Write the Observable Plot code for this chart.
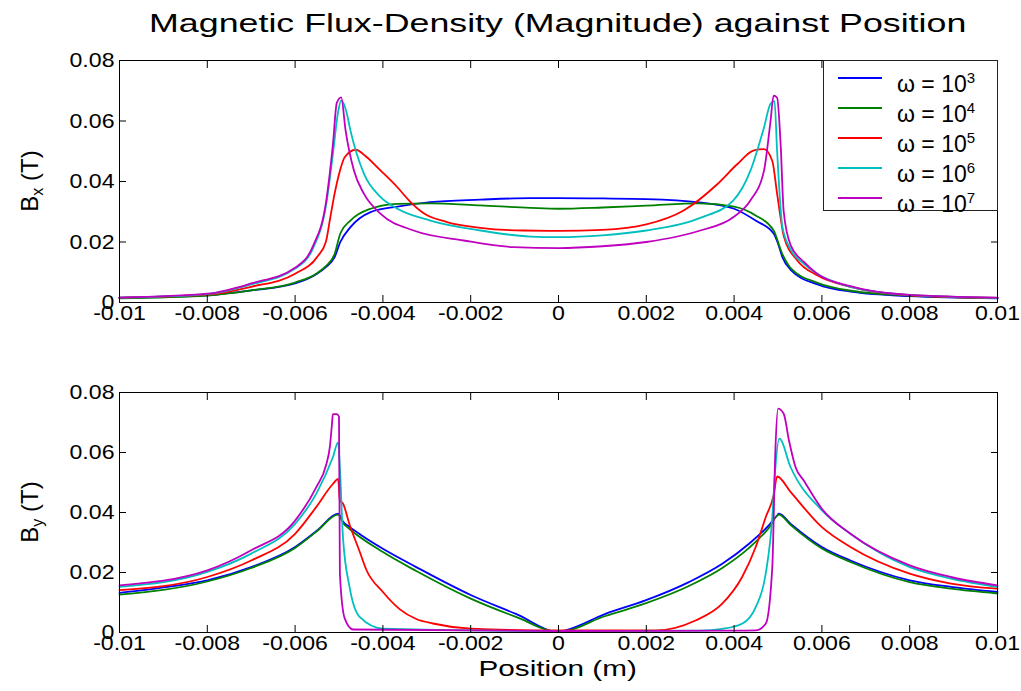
<!DOCTYPE html>
<html>
<head>
<meta charset="utf-8">
<script src="https://cdn.jsdelivr.net/npm/d3@7"></script>
<script src="https://cdn.jsdelivr.net/npm/@observablehq/plot@0.6"></script>
<style>
  html, body { margin: 0; padding: 0; background: #fff; }
  #root { position: relative; width: 1021px; height: 691px; overflow: hidden; font-family: "Liberation Sans", Arial, sans-serif; color: #000; }
  .abs { position: absolute; }
  #title { left: 0; width: 1116px; top: 8px; text-align: center; font-size: 26.5px; white-space: nowrap; }
  #title span, #xlabel span { display: inline-block; transform: scaleX(1.35); transform-origin: center; }
  #xlabel { left: 0; width: 1116px; top: 656px; text-align: center; font-size: 22px; white-space: nowrap; }
  .ylab { font-size: 24px; white-space: nowrap; transform: translate(-50%, -50%) rotate(-90deg); }
  .ylab sub { font-size: 16px; vertical-align: -5px; }
  #legend { left: 823px; top: 60px; width: 173px; height: 149px; border: 1px solid #222; background: #fff; }
  .lrow { position: absolute; left: 0; height: 30px; width: 173px; }
  .lrow svg { position: absolute; left: 14px; top: 0; }
  .lrow .lt { position: absolute; left: 73px; top: 2px; font-size: 23px; white-space: nowrap; line-height: 26px; }
  .lrow .lt sup { font-size: 15px; vertical-align: 9px; }
</style>
</head>
<body>
<div id="root">
  <div id="title" class="abs"><span>Magnetic Flux-Density (Magnitude) against Position</span></div>
  <div id="top" class="abs" style="left:0;top:40px"></div>
  <div id="bottom" class="abs" style="left:0;top:372px"></div>
  <div class="abs ylab" style="left:31px;top:181px">B<sub>x</sub> (T)</div>
  <div class="abs ylab" style="left:31px;top:512px">B<sub>y</sub> (T)</div>
  <div id="xlabel" class="abs"><span>Position (m)</span></div>
  <div id="legend" class="abs"></div>
</div>
<script>
// ---- tick values and labels ----
const xTicks = [-0.01, -0.008, -0.006, -0.004, -0.002, 0, 0.002, 0.004, 0.006, 0.008, 0.01];
const xTickLabels = ["-0.01", "-0.008", "-0.006", "-0.004", "-0.002", "0", "0.002", "0.004", "0.006", "0.008", "0.01"];
const yTicks = [0, 0.02, 0.04, 0.06, 0.08];
const yTickLabels = ["0", "0.02", "0.04", "0.06", "0.08"];

// ---- series names / colours ----
const seriesExponents = ["3", "4", "5", "6", "7"];
const seriesColors = ["#0000ff", "#008000", "#ff0000", "#00bfbf", "#bf00bf"];

// ---- Bx (top panel): [position (m), flux density (T)] ----
const bx_w1e3 = [[-0.0100,0.0015],[-0.0090,0.0019],[-0.0080,0.0024],[-0.0070,0.0040],[-0.0060,0.0063],[-0.0055,0.0095],[-0.0053,0.0117],[-0.0051,0.0150],[-0.00497,0.0200],[-0.00474,0.0249],[-0.00428,0.0299],[-0.00367,0.0317],[-0.00292,0.0332],[-0.00178,0.0340],[-0.00064,0.0345],[0,0.0345],[0.0010,0.0344],[0.0020,0.0342],[0.0032,0.0331],[0.0040,0.0310],[0.0045,0.0270],[0.0049,0.0228],[0.0050,0.0195],[0.0051,0.0150],[0.0053,0.0106],[0.0059,0.0060],[0.0067,0.0035],[0.0080,0.0021],[0.0100,0.0014]];
const bx_w1e4 = [[-0.0100,0.0014],[-0.0080,0.0023],[-0.0070,0.0040],[-0.0060,0.0066],[-0.0055,0.0097],[-0.0053,0.0120],[-0.0051,0.0160],[-0.00497,0.0228],[-0.00474,0.0271],[-0.00428,0.0310],[-0.00367,0.0326],[-0.00292,0.0328],[-0.00178,0.0321],[-0.00064,0.0313],[0,0.0310],[0.0010,0.0314],[0.0020,0.0320],[0.0032,0.0328],[0.0040,0.0317],[0.0045,0.0287],[0.0049,0.0238],[0.0051,0.0160],[0.0053,0.0112],[0.0059,0.0065],[0.0067,0.0038],[0.0080,0.0023],[0.0100,0.0015]];
const bx_w1e5 = [[-0.0100,0.0016],[-0.0080,0.0026],[-0.0070,0.0052],[-0.0060,0.0095],[-0.0055,0.0150],[-0.0053,0.0200],[-0.0052,0.0280],[-0.0051,0.0360],[-0.00498,0.0435],[-0.00487,0.0480],[-0.00462,0.0505],[-0.00438,0.0482],[-0.00405,0.0436],[-0.00367,0.0381],[-0.00337,0.0332],[-0.00307,0.0295],[-0.00254,0.0266],[-0.00178,0.0247],[-0.0008,0.0238],[0,0.0237],[0.0010,0.0240],[0.0020,0.0258],[0.00285,0.0304],[0.00361,0.0390],[0.00407,0.0457],[0.00445,0.0503],[0.00468,0.0507],[0.00487,0.0468],[0.00498,0.0359],[0.00506,0.0280],[0.00513,0.0220],[0.00544,0.0139],[0.00589,0.0090],[0.00665,0.0052],[0.0080,0.0024],[0.0100,0.0015]];
const bx_w1e6 = [[-0.0100,0.0016],[-0.0080,0.0028],[-0.0070,0.0060],[-0.0060,0.0112],[-0.00559,0.0180],[-0.00529,0.0326],[-0.00514,0.0490],[-0.00502,0.0630],[-0.00495,0.0668],[-0.00483,0.0630],[-0.00474,0.0569],[-0.00443,0.0425],[-0.00405,0.0348],[-0.00367,0.0310],[-0.00292,0.0271],[-0.00178,0.0238],[-0.00064,0.0218],[0,0.0216],[0.0010,0.0222],[0.0020,0.0238],[0.00323,0.0280],[0.00398,0.0337],[0.00437,0.0435],[0.00468,0.0578],[0.00483,0.0657],[0.00492,0.0666],[0.00498,0.0500],[0.00510,0.0250],[0.00529,0.0175],[0.00559,0.0128],[0.00589,0.0095],[0.00665,0.0052],[0.0080,0.0025],[0.0100,0.0015]];
const bx_w1e7 = [[-0.0100,0.0016],[-0.0080,0.0029],[-0.0070,0.0063],[-0.0060,0.0115],[-0.00559,0.0187],[-0.00529,0.0337],[-0.00514,0.0520],[-0.00505,0.0660],[-0.00495,0.0678],[-0.00485,0.0569],[-0.00466,0.0436],[-0.00443,0.0359],[-0.00405,0.0293],[-0.0033,0.0238],[-0.00216,0.0205],[-0.00102,0.0183],[0,0.0180],[0.0010,0.0186],[0.0020,0.0200],[0.00323,0.0238],[0.00398,0.0282],[0.00437,0.0337],[0.00468,0.0435],[0.00483,0.0600],[0.00490,0.0684],[0.00498,0.0677],[0.00506,0.0523],[0.00513,0.0300],[0.00529,0.0189],[0.00559,0.0134],[0.00589,0.0095],[0.00665,0.0054],[0.0080,0.0025],[0.0100,0.0016]];

// ---- By (bottom panel): [position (m), flux density (T)] ----
const by_w1e3 = [[-0.0100,0.0132],[-0.0089,0.0152],[-0.0080,0.0174],[-0.0070,0.0218],[-0.0060,0.0285],[-0.0055,0.0340],[-0.00502,0.0396],[-0.00491,0.0370],[-0.00476,0.0352],[-0.0045,0.0325],[-0.0040,0.0279],[-0.00324,0.0218],[-0.0020,0.0125],[-0.00097,0.0062],[0,0.0002],[0.00016,0.0007],[0.00107,0.0062],[0.00198,0.0107],[0.00297,0.0168],[0.00373,0.0229],[0.00434,0.0296],[0.00479,0.0357],[0.00498,0.0390],[0.00502,0.0396],[0.00529,0.0362],[0.0060,0.0285],[0.00665,0.0240],[0.0080,0.0174],[0.00894,0.0152],[0.0100,0.0135]];
const by_w1e4 = [[-0.0100,0.0126],[-0.0080,0.0170],[-0.0070,0.0215],[-0.0060,0.0282],[-0.0055,0.0338],[-0.00502,0.0393],[-0.00491,0.0365],[-0.00476,0.0345],[-0.0040,0.0268],[-0.00324,0.0205],[-0.0020,0.0113],[-0.00097,0.0052],[0,0.0002],[0.00107,0.0055],[0.00198,0.0097],[0.00297,0.0155],[0.00373,0.0215],[0.00434,0.0282],[0.00479,0.0348],[0.00502,0.0393],[0.00529,0.0358],[0.0060,0.0280],[0.00665,0.0235],[0.0080,0.0168],[0.00894,0.0146],[0.0100,0.0130]];
const by_w1e5 = [[-0.0100,0.0141],[-0.0080,0.0185],[-0.0070,0.0240],[-0.0060,0.0329],[-0.00552,0.0418],[-0.00514,0.0495],[-0.00502,0.0512],[-0.00498,0.0440],[-0.00491,0.0430],[-0.00476,0.0360],[-0.00453,0.0270],[-0.00438,0.0210],[-0.0040,0.0135],[-0.00362,0.0078],[-0.00324,0.0045],[-0.00286,0.0030],[-0.0020,0.0013],[0,0.0007],[0.00221,0.0007],[0.00312,0.0040],[0.00373,0.0096],[0.00418,0.0184],[0.00449,0.0284],[0.00472,0.0384],[0.00490,0.0457],[0.00498,0.0520],[0.00529,0.0468],[0.0060,0.0351],[0.00665,0.0285],[0.0080,0.0196],[0.00894,0.0163],[0.0100,0.0146]];
const by_w1e6 = [[-0.0100,0.0152],[-0.0080,0.0202],[-0.0070,0.0263],[-0.0060,0.0362],[-0.00552,0.0462],[-0.00514,0.0584],[-0.00502,0.0634],[-0.00498,0.0550],[-0.00491,0.0318],[-0.00476,0.0152],[-0.00453,0.0052],[-0.0040,0.0013],[0,0.0005],[0.00323,0.0006],[0.00373,0.0012],[0.00418,0.0029],[0.00449,0.0084],[0.00472,0.0196],[0.00487,0.0384],[0.00493,0.0529],[0.00503,0.0646],[0.00529,0.0550],[0.0060,0.0407],[0.00665,0.0329],[0.0080,0.0218],[0.00894,0.0180],[0.0100,0.0152]];
const by_w1e7 = [[-0.0100,0.0157],[-0.0080,0.0207],[-0.0070,0.0274],[-0.0060,0.0373],[-0.00552,0.0484],[-0.00529,0.0560],[-0.00521,0.0617],[-0.00516,0.0695],[-0.00514,0.0728],[-0.00505,0.0728],[-0.00500,0.0720],[-0.00498,0.0196],[-0.00487,0.0047],[-0.00468,0.0010],[0,0.0005],[0.0040,0.0006],[0.00449,0.0007],[0.00472,0.0029],[0.00487,0.0218],[0.00494,0.0607],[0.00500,0.0746],[0.00513,0.0729],[0.00525,0.0640],[0.0054,0.0551],[0.00559,0.0506],[0.0060,0.0412],[0.00665,0.0329],[0.0080,0.0224],[0.00894,0.0185],[0.0100,0.0157]];

const bxSeries = [bx_w1e3, bx_w1e4, bx_w1e5, bx_w1e6, bx_w1e7];
const bySeries = [by_w1e3, by_w1e4, by_w1e5, by_w1e6, by_w1e7];

const xLab = new Map(xTicks.map((t, i) => [t, xTickLabels[i]]));
const yLab = new Map(yTicks.map((t, i) => [t, yTickLabels[i]]));

function panel(series, height) {
  return Plot.plot({
    width: 1021,
    height,
    marginTop: 20,
    marginBottom: 35,
    marginLeft: 119,
    marginRight: 24,
    style: { fontFamily: "'Liberation Sans', Arial, sans-serif", fontSize: "21px", color: "#000", background: "transparent", overflow: "visible" },
    x: { domain: [-0.01, 0.01] },
    y: { domain: [0, 0.08] },
    marks: [
      ...series.map((s, i) => Plot.line(s, { x: d => d[0], y: d => d[1], stroke: seriesColors[i], strokeWidth: 1.8, curve: "monotone-x" })),
      Plot.frame({ stroke: "#000", strokeWidth: 1 }),
      Plot.axisX({ anchor: "bottom", ticks: xTicks, tickFormat: d => xLab.get(d), tickSize: -7, tickPadding: 10, label: null, fill: "#000" }),
      Plot.axisX({ anchor: "top", ticks: xTicks, tickFormat: () => "", tickSize: -7, label: null }),
      Plot.axisY({ anchor: "left", ticks: yTicks, tickFormat: d => yLab.get(d), tickSize: -7, tickPadding: 12, label: null, fill: "#000" }),
      Plot.axisY({ anchor: "right", ticks: yTicks, tickFormat: () => "", tickSize: -7, label: null })
    ]
  });
}

const topChart = panel(bxSeries, 297);
const bottomChart = panel(bySeries, 295);
document.getElementById("top").appendChild(topChart);
document.getElementById("bottom").appendChild(bottomChart);

// widen tick labels slightly (the reference glyphs are horizontally stretched)
for (const svg of [topChart, bottomChart]) {
  svg.querySelectorAll("g[aria-label$='tick label'] text").forEach(t => {
    if (!t.textContent) return;
    const w = t.getComputedTextLength();
    if (w > 0) {
      t.setAttribute("textLength", (w * 1.1).toFixed(1));
      t.setAttribute("lengthAdjust", "spacingAndGlyphs");
    }
  });
}

// legend
const legend = document.getElementById("legend");
seriesExponents.forEach((e, i) => {
  const row = document.createElement("div");
  row.className = "lrow";
  row.style.top = (2 + i * 30) + "px";
  row.innerHTML = `<svg width="46" height="30"><line x1="0" x2="44" y1="15" y2="15" stroke="${seriesColors[i]}" stroke-width="2"/></svg><span class="lt">ω = 10<sup>${e}</sup></span>`;
  legend.appendChild(row);
});
</script>
</body>
</html>
